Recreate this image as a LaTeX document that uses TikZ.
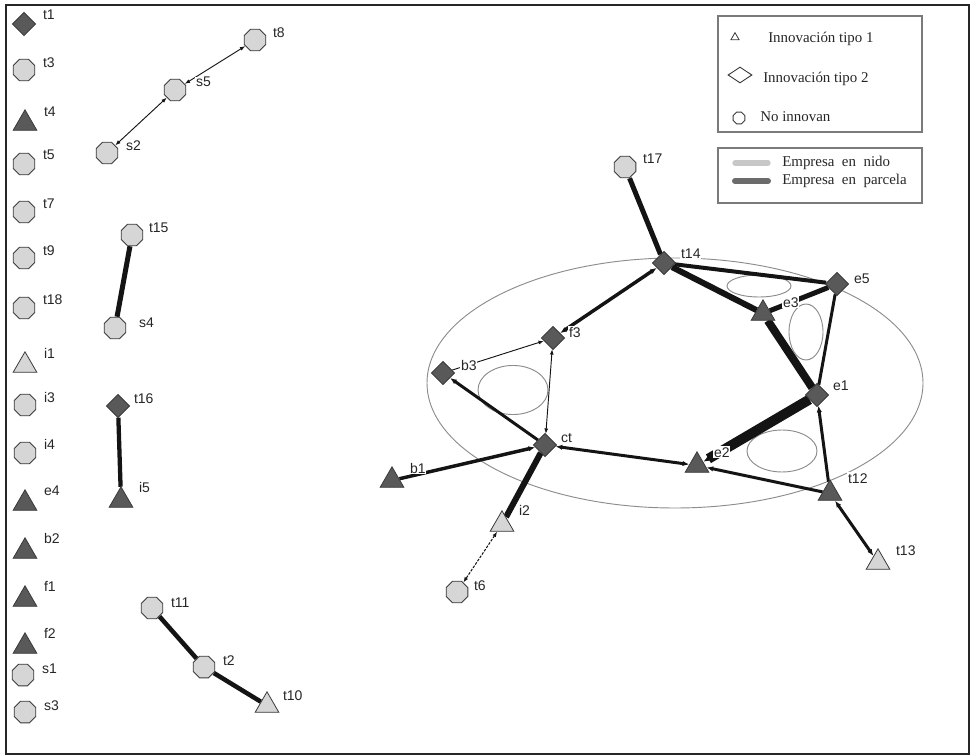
\documentclass[tikz,border=0pt]{standalone}
\usepackage{fontspec}
\setmainfont{Liberation Serif}
\newfontfamily\lblfont{Liberation Sans}
\usetikzlibrary{shapes.geometric,arrows.meta,backgrounds}
\definecolor{nodedark}{HTML}{595959}
\definecolor{nodelight}{HTML}{D6D6D6}
\definecolor{outl}{HTML}{3A3A3A}
\definecolor{ellgray}{HTML}{8C8C8C}
\definecolor{boxgray}{HTML}{7A7A7A}
\newcommand\GN[6]{\node[#2] (#1) at (#3,#4) {}; \node[lbl] (#1-lab) at ({#3+(#5)},{#4+(#6)}) {#1};}
\begin{document}
\begin{tikzpicture}[x=0.75pt,y=-0.75pt,
  circ/.style={regular polygon,regular polygon sides=8,minimum size=17.5pt,inner sep=0pt,fill=nodelight,draw=outl,line width=0.7pt},
  diam/.style={diamond,minimum size=17.5pt,inner sep=0pt,fill=nodedark,draw=outl,line width=0.6pt},
  tridark/.style={regular polygon,regular polygon sides=3,minimum size=20.5pt,inner sep=0pt,fill=nodedark,draw=outl,line width=0.6pt,yshift=-2.6pt},
  trilight/.style={tridark,fill=nodelight},
  lbl/.style={anchor=base west,inner sep=0.6pt,fill=white,font=\lblfont\fontsize{10.5}{11}\selectfont,text=black!85},
  lgtxt/.style={anchor=base west,inner sep=0pt,font=\fontsize{11.2}{12}\selectfont,text=black!85},
  edge/.style={draw=black!92},
  ell/.style={draw=ellgray,line width=0.7pt},
  >={Latex[length=5pt,width=4pt]},
  sm/.style={>={Latex[length=4pt,width=3pt]}}
]
\useasboundingbox (0,0) rectangle (971,756);
\draw[line width=1.2pt,black!85] (6,5) rectangle (969,754);

% left column
\GN{t1}{diam}{24}{24}{18}{-4}
\GN{t3}{circ}{24}{70}{18}{-2}
\GN{t4}{tridark}{25}{120}{18}{-3}
\GN{t5}{circ}{24}{164}{18}{-4}
\GN{t7}{circ}{24}{212}{18}{-3}
\GN{t9}{circ}{24}{258}{18}{-3}
\GN{t18}{circ}{24}{308}{18}{-4}
\GN{i1}{trilight}{25}{362}{18}{-4}
\GN{i3}{circ}{25}{405}{18}{-3}
\GN{i4}{circ}{25}{453}{18}{-4}
\GN{e4}{tridark}{25}{500}{18}{-5}
\GN{b2}{tridark}{25}{548}{18}{-5}
\GN{f1}{tridark}{25}{596}{18}{-5}
\GN{f2}{tridark}{25}{643}{18}{-5}
\GN{s1}{circ}{23}{675}{18}{-2}
\GN{s3}{circ}{25}{712}{18}{-2}

% middle components
\GN{s2}{circ}{107}{153}{18}{-2}
\GN{s5}{circ}{175}{90}{20}{-3}
\GN{t8}{circ}{255}{40}{17}{-2}
\GN{t15}{circ}{132}{235}{16}{-2}
\GN{s4}{circ}{115}{328}{23}{-1}
\GN{t16}{diam}{118}{406}{15}{-3}
\GN{i5}{tridark}{121}{497}{17}{-5}
\GN{t11}{circ}{152}{608}{18}{-1}
\GN{t2}{circ}{204}{667}{18}{-2}
\GN{t10}{trilight}{267}{702}{15}{-2}

% main component
\GN{t17}{circ}{625}{167}{17}{-3}
\GN{t14}{diam}{664}{263}{16}{-5}
\GN{e5}{diam}{837}{284}{16}{-1}
\GN{e3}{tridark}{763}{310}{19}{-3}
\GN{f3}{diam}{553}{338}{15}{-1}
\GN{b3}{diam}{443}{373}{17}{-3}
\GN{ct}{diam}{545}{445}{15}{-3}
\GN{e2}{tridark}{697}{462}{16}{-5}
\GN{e1}{diam}{817}{395}{15}{-5}
\GN{t12}{tridark}{830}{490}{17}{-7}
\GN{t13}{trilight}{878}{559}{17}{-4}
\GN{b1}{tridark}{392}{477}{17}{-4}
\GN{i2}{trilight}{502}{521}{16}{-6}
\GN{t6}{circ}{457}{592}{16}{-2}

\begin{pgfonlayer}{background}
% ellipses
\draw[ell] (675,383) ellipse [x radius=186pt,y radius=93.75pt];
\draw[ell] (513,390) ellipse [x radius=26.25pt,y radius=18.4pt];
\draw[ell] (759,286) ellipse [x radius=24pt,y radius=8.25pt];
\draw[ell] (806,332) ellipse [x radius=12.75pt,y radius=21pt];
\draw[ell] (782,451) ellipse [x radius=26.25pt,y radius=15.75pt];
% edges
\draw[edge,sm,<->,line width=0.7pt] (s2) -- (s5);
\draw[edge,sm,<->,line width=0.7pt] (s5) -- (t8);
\draw[edge,line width=3.75pt] (t15) -- (s4);
\draw[edge,line width=3.2pt] (t16) -- (i5);
\draw[edge,line width=3.4pt] (t11) -- (t2);
\draw[edge,line width=3.4pt] (t2) -- (t10);
\draw[edge,line width=3.75pt] (t17) -- (t14);
\draw[edge,line width=3pt] (t14) -- (e5);
\draw[edge,line width=4.5pt] (t14) -- (e3);
\draw[edge,line width=3.75pt] (e5) -- (e3);
\draw[edge,line width=6pt] (e3) -- (e1);
\draw[edge,line width=2.25pt] (e5) -- (e1);
\draw[edge,<->,line width=2.6pt] (f3) -- (t14);
\draw[edge,sm,->,line width=0.7pt] (b3) -- (f3);
\draw[edge,sm,<->,line width=0.7pt] (f3) -- (ct);
\draw[edge,->,line width=2.25pt] (ct) -- (b3);
\draw[edge,<->,line width=2.25pt] (ct) -- (e2);
\draw[edge,->,line width=2.6pt] (b1) -- (ct);
\draw[edge,line width=4.5pt] (ct) -- (i2);
\draw[edge,sm,<->,line width=0.75pt,dash pattern=on 2pt off 1pt] (i2) -- (t6);
\draw[edge,->,line width=7.5pt] (e1) -- (e2);
\draw[edge,->,line width=2.25pt] (t12) -- (e2);
\draw[edge,->,line width=2.25pt] (t12) -- (e1);
\draw[edge,<->,line width=2.25pt] (t12) -- (t13);
\end{pgfonlayer}

% legend 1
\draw[boxgray,line width=1.1pt] (718,16) rectangle (922,132);
\node[regular polygon,regular polygon sides=3,minimum size=7pt,inner sep=0pt,draw=outl,line width=0.6pt,yshift=-1pt] (lg-tri) at (735,36) {};
\node[lgtxt] (lg-t1) at (768,43) {Innovación tipo 1};
\node[diamond,minimum width=18pt,minimum height=12pt,inner sep=0pt,draw=outl,line width=0.7pt] (lg-dia) at (740,75) {};
\node[lgtxt] (lg-t2) at (763,83) {Innovación tipo 2};
\node[regular polygon,regular polygon sides=8,minimum size=9.5pt,inner sep=0pt,draw=outl,line width=0.7pt] (lg-oct) at (739,118) {};
\node[lgtxt] (lg-t3) at (760,122) {No innovan};
% legend 2
\draw[boxgray,line width=1.1pt] (718,148) rectangle (922,203);
\draw[line width=4pt,black!22,line cap=round] (735,163) -- (768,163);
\draw[line width=4.5pt,black!58,line cap=round] (735,181) -- (768,181);
\node[lgtxt] (lg-t4) at (782,167) {Empresa \ en \ nido};
\node[lgtxt] (lg-t5) at (782,185) {Empresa \ en \ parcela};
\end{tikzpicture}
\end{document}
